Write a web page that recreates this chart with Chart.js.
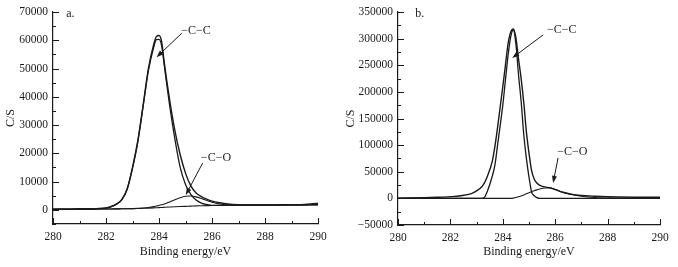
<!DOCTYPE html>
<html>
<head>
<meta charset="utf-8">
<script src="https://cdn.jsdelivr.net/npm/chart.js@4"></script>
<style>
  html, body { margin: 0; padding: 0; background: #fff; }
  #wrap { position: relative; width: 678px; height: 267px; }
  .panel { position: absolute; top: 0; height: 267px; }
</style>
</head>
<body>
<div id="wrap">
  <div class="panel" style="left:0;width:340px"><canvas id="chartA" width="340" height="267"></canvas></div>
  <div class="panel" style="left:340px;width:338px"><canvas id="chartB" width="338" height="267"></canvas></div>
</div>
<script>
// panel a: binding energy (eV) and counts
const energyA = [280, 280.5, 281, 281.5, 282, 282.2, 282.4, 282.6, 282.8, 283,
  283.2, 283.4, 283.6, 283.8, 283.9, 284, 284.1, 284.2, 284.4, 284.6,
  284.8, 285, 285.2, 285.4, 285.6, 285.8, 286, 286.3, 286.6, 287,
  287.5, 288, 288.5, 289, 289.5, 289.8, 290];
const envelopeA = [200, 250, 300, 400, 650, 1200, 2100, 3700, 7500, 15000,
  24500, 37000, 50000, 58500, 61300, 61700, 59500, 52000, 39000, 28000,
  19500, 13000, 8500, 6000, 4700, 3800, 3100, 2500, 2100, 1850,
  1750, 1750, 1800, 1850, 1950, 2150, 2300];
const ccA = [200, 250, 300, 400, 620, 1150, 2000, 3600, 7300, 14700,
  24000, 36500, 49300, 57500, 60200, 60300, 58000, 51000, 37000, 25000,
  15000, 9000, 5500, 3500, 2400, 1900, 1600, 1600, 1650, 1650,
  1700, 1700, 1720, 1750, 1770, 1790, 1800];
const coA = [200, 220, 250, 280, 300, 320, 350, 380, 420, 450,
  520, 650, 850, 1150, 1350, 1550, 1800, 2100, 2800, 3600,
  4300, 4800, 4900, 4600, 4000, 3300, 2700, 2100, 1800, 1700,
  1700, 1700, 1720, 1750, 1770, 1790, 1800];
const baselineA = [200, 220, 250, 280, 300, 320, 350, 380, 420, 450,
  500, 560, 620, 700, 750, 800, 850, 900, 1000, 1100,
  1180, 1250, 1320, 1400, 1450, 1500, 1550, 1600, 1630, 1650,
  1680, 1700, 1720, 1750, 1770, 1790, 1800];

// panel b
const energyB = [280, 281, 281.5, 282, 282.4, 282.8, 283, 283.2, 283.3, 283.4,
  283.6, 283.7, 283.8, 284, 284.1, 284.2, 284.3, 284.4, 284.5, 284.6,
  284.7, 284.8, 284.9, 285, 285.1, 285.2, 285.3, 285.4, 285.6, 285.8,
  286, 286.3, 286.6, 287, 287.5, 288, 289, 290];
const envelopeB = [500, 1200, 2000, 3200, 5000, 9000, 14000, 22000, 29000, 40000,
  70000, 98000, 133000, 210000, 250000, 290000, 312000, 318000, 302000, 262000,
  225000, 180000, 125000, 85000, 52000, 36000, 29000, 25000, 21500, 20000,
  16500, 11500, 8000, 5500, 4000, 3000, 2200, 2000];
const ccB = [0, 0, 0, 0, 0, 0, 0, 0, 2000, 12000,
  42000, 63000, 100000, 175000, 222000, 268000, 303000, 316000, 290000, 232000,
  182000, 120000, 75000, 40000, 12000, 5000, 1500, 0, 0, 0,
  0, 0, 0, 0, 0, 0, 0, 0];
const coB = [0, 0, 0, 0, 0, 0, 0, 0, 0, 0,
  0, 0, 0, 0, 0, 0, 0, 500, 1500, 3000,
  4500, 6500, 8500, 10500, 12500, 14500, 16000, 17500, 19500, 19500,
  17000, 11000, 7500, 4000, 1500, 500, 0, 0];

const FONT = '"Liberation Serif", "Times New Roman", serif';
const INK = '#1a1a1a';

const toPoints = (xs, ys) => xs.map((x, i) => ({ x: x, y: ys[i] }));
const minus = v => String(v).replace('-', '\u2212');

function line(xs, ys, width) {
  return {
    data: toPoints(xs, ys),
    borderColor: INK,
    borderWidth: width,
    pointRadius: 0,
    fill: false,
    cubicInterpolationMode: 'monotone'
  };
}

// draws inward ticks, the panel tag and the labelled arrows (in data units)
function decor(cfg) {
  return {
    id: 'decor',
    afterDatasetsDraw(chart) {
      const { ctx, chartArea } = chart;
      const x = chart.scales.x, y = chart.scales.y;
      ctx.save();
      ctx.strokeStyle = INK;
      ctx.lineWidth = 1;
      x.ticks.forEach(t => {
        const px = Math.round(x.getPixelForValue(t.value)) + 0.5;
        const len = t.value % 2 === 0 ? 6 : 3;
        ctx.beginPath();
        ctx.moveTo(px, chartArea.bottom);
        ctx.lineTo(px, chartArea.bottom - len);
        ctx.stroke();
      });
      y.ticks.forEach(t => {
        const py = Math.round(y.getPixelForValue(t.value)) + 0.5;
        const len = t.value % cfg.yMajor === 0 ? 6 : 3;
        ctx.beginPath();
        ctx.moveTo(chartArea.left, py);
        ctx.lineTo(chartArea.left + len, py);
        ctx.stroke();
      });

      ctx.fillStyle = INK;
      ctx.font = '12px ' + FONT;
      ctx.textBaseline = 'middle';
      ctx.textAlign = 'left';
      ctx.fillText(cfg.tag, x.getPixelForValue(cfg.tagAt[0]), y.getPixelForValue(cfg.tagAt[1]));

      ctx.textAlign = 'center';
      cfg.notes.forEach(n => {
        ctx.fillText(n.label, x.getPixelForValue(n.at[0]), y.getPixelForValue(n.at[1]));
        const x0 = x.getPixelForValue(n.from[0]), y0 = y.getPixelForValue(n.from[1]);
        const x1 = x.getPixelForValue(n.to[0]), y1 = y.getPixelForValue(n.to[1]);
        const a = Math.atan2(y1 - y0, x1 - x0);
        ctx.beginPath();
        ctx.moveTo(x0, y0);
        ctx.lineTo(x1 - 4 * Math.cos(a), y1 - 4 * Math.sin(a));
        ctx.stroke();
        ctx.beginPath();
        ctx.moveTo(x1, y1);
        ctx.lineTo(x1 - 7 * Math.cos(a) + 2.5 * Math.sin(a), y1 - 7 * Math.sin(a) - 2.5 * Math.cos(a));
        ctx.lineTo(x1 - 7 * Math.cos(a) - 2.5 * Math.sin(a), y1 - 7 * Math.sin(a) + 2.5 * Math.cos(a));
        ctx.closePath();
        ctx.fill();
      });
      ctx.restore();
    }
  };
}

function makeChart(id, datasets, cfg) {
  return new Chart(document.getElementById(id), {
    type: 'line',
    data: { datasets: datasets },
    plugins: [decor(cfg)],
    options: {
      responsive: false,
      animation: false,
      events: [],
      layout: { padding: { top: cfg.padTop, right: cfg.padRight, left: 0, bottom: 0 } },
      plugins: { legend: { display: false }, tooltip: { enabled: false } },
      scales: {
        x: {
          type: 'linear',
          min: 280,
          max: 290,
          afterFit: s => { s.height = cfg.xHeight; },
          grid: { display: false, drawTicks: false },
          border: { display: true, color: INK, width: 1.2 },
          ticks: {
            stepSize: 1,
            autoSkip: false,
            maxRotation: 0,
            padding: 6,
            color: INK,
            font: { family: FONT, size: 11.5 },
            callback: v => (v % 2 === 0 ? String(v) : '')
          },
          title: {
            display: true,
            text: 'Binding energy/eV',
            color: INK,
            font: { family: FONT, size: 12 },
            padding: { top: 0, bottom: 8 }
          }
        },
        y: {
          min: cfg.yMin,
          max: cfg.yMax,
          afterFit: s => { s.width = cfg.yWidth; },
          grid: { display: false, drawTicks: false },
          border: { display: true, color: INK, width: 1.2 },
          ticks: {
            stepSize: cfg.yStep,
            autoSkip: false,
            padding: 5,
            color: INK,
            font: { family: FONT, size: 11.5 },
            callback: v => (v % cfg.yMajor === 0 ? minus(v) : '')
          },
          title: {
            display: true,
            text: 'C/S',
            color: INK,
            font: { family: FONT, size: 12 },
            padding: { top: 4, bottom: 0 }
          }
        }
      }
    }
  });
}

makeChart('chartA', [
  line(energyA, baselineA, 1.1),
  line(energyA, coA, 1.1),
  line(energyA, ccA, 1.3),
  line(energyA, envelopeA, 1.4)
], {
  yMin: -5000, yMax: 70000, yStep: 5000, yMajor: 10000,
  yWidth: 53, xHeight: 43, padTop: 12, padRight: 22,
  tag: 'a.', tagAt: [280.5, 69200],
  notes: [
    { label: '\u2212C\u2212C', at: [285.4, 63500], from: [284.86, 62500], to: [283.91, 54000] },
    { label: '\u2212C\u2212O', at: [286.15, 18400], from: [285.65, 16600], to: [285.01, 5300] }
  ]
});

makeChart('chartB', [
  line(energyB, coB, 1.1),
  line(energyB, ccB, 1.3),
  line(energyB, envelopeB, 1.4)
], {
  yMin: -50000, yMax: 350000, yStep: 25000, yMajor: 50000,
  yWidth: 58, xHeight: 42, padTop: 12, padRight: 18,
  tag: 'b.', tagAt: [280.66, 346700],
  notes: [
    { label: '\u2212C\u2212C', at: [286.25, 316600], from: [285.54, 307000], to: [284.36, 263700] },
    { label: '\u2212C\u2212O', at: [286.65, 87500], from: [286.11, 76000], to: [285.92, 29000] }
  ]
});
</script>
</body>
</html>
